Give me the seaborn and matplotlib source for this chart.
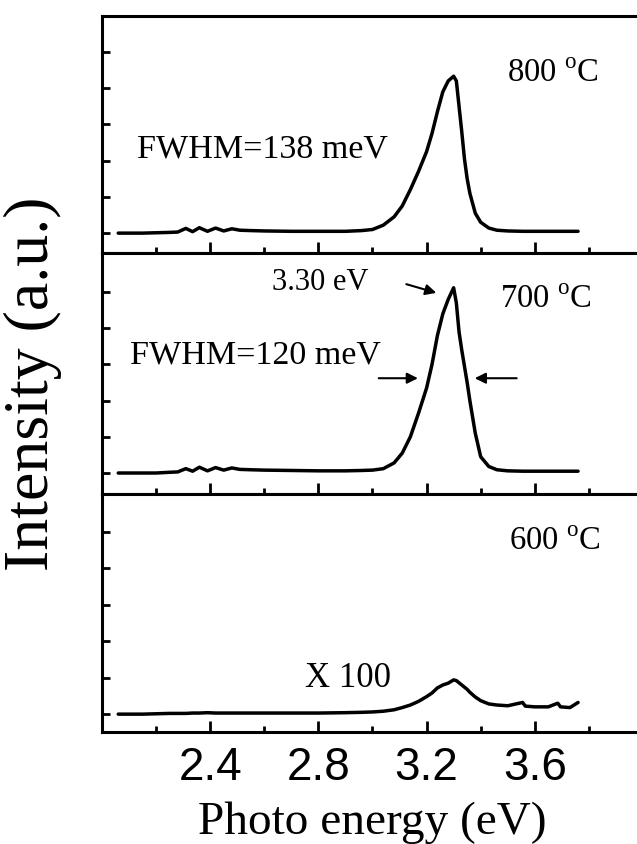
import matplotlib
matplotlib.use('Agg')
import matplotlib.pyplot as plt
import seaborn as sns

# photon energy (eV), shared by the three spectra
energy = [2.06, 2.10, 2.15, 2.20, 2.25, 2.28, 2.31, 2.335, 2.36, 2.39,
          2.42, 2.45, 2.48, 2.51, 2.55, 2.60, 2.70, 2.80, 2.90, 2.96,
          3.00, 3.04, 3.08, 3.11, 3.14, 3.17, 3.20, 3.22, 3.24, 3.26,
          3.28, 3.30, 3.31, 3.32, 3.33, 3.34, 3.35, 3.36, 3.38, 3.40,
          3.43, 3.46, 3.50, 3.555, 3.565, 3.60, 3.65, 3.685, 3.695, 3.73,
          3.76]

int_800 = [0.00, 0.00, 0.00, 0.01, 0.02, 0.03, 0.13, 0.04, 0.15, 0.05,
           0.14, 0.06, 0.12, 0.08, 0.07, 0.06, 0.05, 0.05, 0.05, 0.07,
           0.10, 0.22, 0.45, 0.75, 1.20, 1.70, 2.25, 2.75, 3.35, 3.90,
           4.20, 4.33, 4.20, 3.50, 2.80, 2.05, 1.50, 1.10, 0.55, 0.30,
           0.14, 0.08, 0.06, 0.05, 0.05, 0.05, 0.05, 0.05, 0.05, 0.05,
           0.05]

int_700 = [0.00, 0.00, 0.00, 0.00, 0.02, 0.03, 0.12, 0.05, 0.16, 0.06,
           0.15, 0.08, 0.14, 0.10, 0.09, 0.08, 0.07, 0.06, 0.06, 0.07,
           0.08, 0.12, 0.28, 0.55, 1.00, 1.65, 2.35, 3.00, 3.80, 4.40,
           4.80, 5.12, 4.70, 3.90, 3.40, 2.95, 2.50, 2.00, 1.10, 0.45,
           0.18, 0.09, 0.06, 0.05, 0.05, 0.05, 0.05, 0.05, 0.05, 0.05,
           0.05]

# measured x100
int_600 = [0.00, 0.00, 0.00, 0.01, 0.02, 0.02, 0.02, 0.03, 0.03, 0.04,
           0.03, 0.03, 0.03, 0.03, 0.03, 0.03, 0.03, 0.03, 0.04, 0.05,
           0.06, 0.08, 0.12, 0.18, 0.25, 0.35, 0.48, 0.58, 0.72, 0.80,
           0.85, 0.94, 0.92, 0.86, 0.80, 0.74, 0.68, 0.60, 0.47, 0.37,
           0.28, 0.25, 0.23, 0.32, 0.22, 0.20, 0.20, 0.30, 0.20, 0.18,
           0.32]

temps = ['800', '700', '600']
fwhm = {'800': '138', '700': '120'}
x_major = [2.4, 2.8, 3.2, 3.6]
x_minor = [2.2, 2.6, 3.0, 3.4, 3.8]
x_labels = ['2.4', '2.8', '3.2', '3.6']

sns.set_style('ticks')
plt.rcParams['font.family'] = ['Liberation Serif', 'DejaVu Serif']
plt.rcParams['mathtext.fontset'] = 'custom'
plt.rcParams['mathtext.rm'] = 'Liberation Serif'
plt.rcParams['text.color'] = 'black'
plt.rcParams['axes.labelcolor'] = 'black'

fig = plt.figure(figsize=(6.37, 8.44), dpi=100)
left, width = 0.1601, 0.8493
boxes = [[left, 0.7006, width, 0.2808],
         [left, 0.4147, width, 0.2859],
         [left, 0.1327, width, 0.2820]]
ylims = [(-0.54, 6.0), (-0.58, 6.09), (-0.49, 6.04)]
spectra = [int_800, int_700, int_600]

axes = []
for box, lim, vals in zip(boxes, ylims, spectra):
    ax = fig.add_axes(box)
    sns.lineplot(x=energy, y=vals, ax=ax, color='black', linewidth=2.5)
    ax.set_xlim(2.0, 4.0)
    ax.set_ylim(*lim)
    ax.set_xticks(x_major)
    ax.set_xticks(x_minor, minor=True)
    ax.set_yticks(range(6))
    ax.tick_params(axis='both', which='both', direction='in', width=2.0,
                   colors='black', labelcolor='black')
    ax.tick_params(axis='x', which='major', length=8)
    ax.tick_params(axis='x', which='minor', length=4.5)
    ax.tick_params(axis='y', which='major', length=6, labelleft=False)
    ax.tick_params(top=False, right=False)
    for s in ax.spines.values():
        s.set_linewidth(2.2)
        s.set_color('black')
    ax.spines['right'].set_visible(False)
    ax.set_xlabel('')
    ax.set_ylabel('')
    axes.append(ax)

ax1, ax2, ax3 = axes
ax1.tick_params(axis='x', labelbottom=False)
ax2.tick_params(axis='x', labelbottom=False)
ax3.set_xticklabels(x_labels, fontfamily='Liberation Sans', fontsize=33)
ax3.tick_params(axis='x', which='major', pad=10)

ax3.set_xlabel('Photo energy (eV)', fontsize=34)
ax3.xaxis.set_label_coords(0.5, -0.29)
ax2.set_ylabel('Intensity (a.u.)', fontsize=46)
ax2.yaxis.set_label_coords(-0.074, 0.456)

# temperature labels
temp_pos = [(3.496, 4.17), (3.47, 4.56), (3.503, 4.5)]
for ax, t, (tx, ty) in zip(axes, temps, temp_pos):
    ax.text(tx, ty, t + r' $^{\mathrm{o}}$C', fontsize=23.5, va='baseline')

ax1.text(2.13, 2.1, 'FWHM=' + fwhm['800'] + ' meV', fontsize=24.5, va='baseline')
ax2.text(2.104, 3.04, 'FWHM=' + fwhm['700'] + ' meV', fontsize=24.5, va='baseline')
ax2.text(2.627, 5.06, '3.30 eV', fontsize=22, va='baseline')
ax3.text(2.752, 0.74, 'X 100', fontsize=25, va='baseline')

arrow = dict(arrowstyle='-|>', color='black', lw=1.5, mutation_scale=16,
             shrinkA=0, shrinkB=0)
ax2.annotate('', xy=(3.236, 4.98), xytext=(3.125, 5.22), arrowprops=arrow)
ax2.annotate('', xy=(3.168, 2.62), xytext=(3.023, 2.62), arrowprops=arrow)
ax2.annotate('', xy=(3.378, 2.62), xytext=(3.533, 2.62), arrowprops=arrow)

plt.savefig('out.png', dpi=100)
plt.close()
